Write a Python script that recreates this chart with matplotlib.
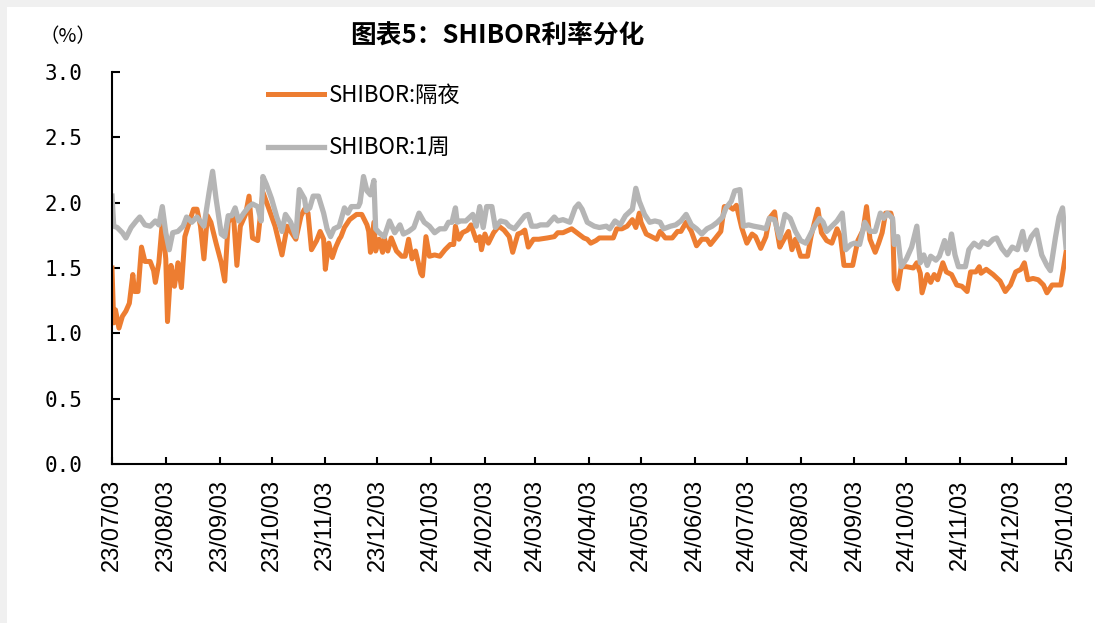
import numpy as np
import pandas as pd
import matplotlib
matplotlib.use('Agg')
import matplotlib.pyplot as plt
from matplotlib.patches import Rectangle

plt.rcParams['font.family'] = ['Noto Sans CJK SC', 'DejaVu Sans']

start = pd.Timestamp('2023-07-03')
end = pd.Timestamp('2025-01-03')

# SHIBOR overnight: days after 2023-07-03 and rate (%)
on_days = [0, 1, 2, 4, 6, 8, 10, 12, 13, 15, 17, 19, 22, 24, 25, 27, 29, 31, 32, 34,
           36, 38, 40, 42, 45, 47, 49, 51, 53, 55, 57, 60, 63, 65, 67, 70, 72, 74, 77, 79,
           81, 84, 87, 90, 94, 98, 101, 104, 106, 109, 111, 113, 115, 118,
           120, 122, 123, 125, 127, 129, 131, 132, 134, 137, 141, 144, 147, 148, 149, 151,
           152, 154, 156, 157, 159, 161, 164, 167, 169, 171, 173, 175, 178, 179, 181, 183,
           186, 189, 192, 195, 197, 198, 200, 202, 205, 207, 210, 212, 213, 215, 217, 220,
           223, 226, 229, 231, 234, 236, 238, 240, 243, 246,
           251, 255, 257, 260, 265, 269, 272, 274, 276, 279, 281, 285, 289, 291, 294, 297,
           300, 302, 304, 305, 308, 311, 314, 316, 319, 323, 326, 328, 331, 334, 337, 340,
           343, 345, 348, 351, 353, 356, 358, 360, 363, 366, 369, 371,
           374, 377, 379, 382, 383, 385, 387, 390, 392, 394, 397, 401, 403, 405, 407, 409,
           412, 415, 418, 420, 422, 425, 427, 430, 433, 435, 437, 440, 442, 444, 446, 449,
           450, 451, 453, 455, 458, 462, 464, 466, 467, 470, 472, 474, 476, 479, 481, 484,
           487, 490, 493, 495, 498, 500, 501, 504, 508, 512, 515, 518, 521, 524, 526, 528,
           531, 534, 537, 539, 542, 545, 547, 550]
on_vals = [1.50, 1.08, 1.18, 1.04, 1.13, 1.17, 1.23, 1.45, 1.32, 1.32, 1.66, 1.55, 1.55, 1.48, 1.39, 1.54, 1.85, 1.57, 1.09, 1.52,
           1.36, 1.54, 1.35, 1.74, 1.87, 1.95, 1.95, 1.82, 1.57, 1.90, 1.85, 1.69, 1.54, 1.40, 1.85, 1.91, 1.52, 1.82, 1.91, 2.05,
           1.73, 1.71, 2.08, 1.97, 1.82, 1.60, 1.82, 1.76, 1.72, 1.90, 1.95, 1.92, 1.64, 1.71,
           1.78, 1.72, 1.49, 1.69, 1.58, 1.66, 1.72, 1.74, 1.81, 1.87, 1.91, 1.91, 1.83, 1.78, 1.62, 1.85,
           1.63, 1.72, 1.62, 1.73, 1.63, 1.73, 1.63, 1.59, 1.59, 1.72, 1.57, 1.63, 1.46, 1.44, 1.74, 1.59,
           1.60, 1.59, 1.64, 1.68, 1.68, 1.82, 1.72, 1.77, 1.79, 1.83, 1.71, 1.74, 1.64, 1.76, 1.69, 1.77,
           1.82, 1.79, 1.74, 1.62, 1.76, 1.77, 1.79, 1.66, 1.72, 1.72,
           1.73, 1.74, 1.77, 1.77, 1.80, 1.76, 1.73, 1.72, 1.69, 1.71, 1.73, 1.73, 1.73, 1.80, 1.80, 1.82,
           1.87, 1.81, 1.92, 1.85, 1.76, 1.74, 1.72, 1.78, 1.73, 1.73, 1.78, 1.78, 1.85, 1.78, 1.67, 1.72,
           1.72, 1.68, 1.73, 1.78, 1.97, 1.97, 1.95, 1.98, 1.81, 1.69, 1.76, 1.74,
           1.65, 1.74, 1.88, 1.93, 1.82, 1.66, 1.71, 1.78, 1.64, 1.72, 1.59, 1.59, 1.74, 1.85, 1.95, 1.77,
           1.71, 1.69, 1.80, 1.74, 1.52, 1.52, 1.52, 1.71, 1.79, 1.97, 1.72, 1.62, 1.69, 1.77, 1.92, 1.92,
           1.87, 1.40, 1.34, 1.51, 1.51, 1.50, 1.54, 1.46, 1.31, 1.45, 1.39, 1.45, 1.41, 1.54, 1.47, 1.45,
           1.37, 1.36, 1.32, 1.47, 1.47, 1.51, 1.46, 1.49, 1.45, 1.40, 1.32, 1.37, 1.47, 1.49, 1.54, 1.41,
           1.42, 1.41, 1.37, 1.31, 1.37, 1.37, 1.37, 1.62]

# SHIBOR 1 week
w1_days = [0, 1, 3, 6, 8, 11, 14, 16, 19, 22, 25, 27, 29, 31, 33, 35, 38, 41, 43, 46,
           49, 53, 56, 58, 60, 63, 65, 67, 69, 71, 73, 76, 79, 81, 84, 86, 87, 89, 92, 95,
           98, 100, 103, 106, 108, 111, 112, 114, 116, 119,
           122, 124, 126, 128, 131, 134, 136, 138, 142, 143, 145, 147, 149, 151, 152, 154,
           157, 160, 163, 166, 168, 171, 174, 177, 180, 183, 186, 189, 192, 194, 196, 198,
           199, 201, 204, 208, 210, 212, 214, 216, 219, 221, 224, 227, 229, 232, 235, 238,
           240, 242, 245,
           247, 251, 255, 257, 260, 264, 267, 269, 271, 274, 278, 281, 285, 287, 290, 293,
           296, 300, 302, 304, 307, 310, 313, 316, 318, 322, 325, 328, 331, 334, 337, 340,
           343, 346, 349, 352, 354, 357, 359, 362, 364, 367, 370,
           374, 377, 379, 382, 385, 388, 391, 394, 397, 400, 402, 405, 408, 410, 412, 415,
           418, 421, 423, 426, 428, 431, 434, 437, 440, 443, 445, 447, 450, 451, 453, 455,
           458, 461, 464, 466, 468, 470, 472, 475, 477, 480, 482, 484, 486, 488, 492, 494,
           497, 500, 502, 505, 508, 510, 513, 516, 519, 522, 525, 527, 530, 533, 536, 539,
           541, 544, 546, 548, 550]
w1_vals = [2.05, 1.82, 1.81, 1.77, 1.73, 1.81, 1.86, 1.89, 1.83, 1.82, 1.86, 1.83, 1.97, 1.77, 1.64, 1.77, 1.78, 1.82, 1.89, 1.85,
           1.89, 1.82, 2.08, 2.24, 2.03, 1.76, 1.74, 1.90, 1.90, 1.96, 1.86, 1.92, 1.97, 1.99, 1.97, 1.86, 2.20, 2.14, 2.03, 1.89,
           1.78, 1.91, 1.85, 1.74, 2.10, 2.03, 1.94, 1.96, 2.05, 2.05,
           1.92, 1.80, 1.74, 1.80, 1.82, 1.96, 1.92, 1.97, 1.97, 2.00, 2.20, 2.09, 2.06, 2.17, 1.80, 1.77,
           1.74, 1.86, 1.77, 1.83, 1.76, 1.78, 1.81, 1.92, 1.85, 1.82, 1.77, 1.80, 1.80, 1.85, 1.85, 1.96,
           1.85, 1.86, 1.86, 1.91, 1.82, 1.97, 1.81, 1.97, 1.97, 1.81, 1.86, 1.85, 1.82, 1.80, 1.85, 1.90,
           1.91, 1.82, 1.82,
           1.83, 1.83, 1.89, 1.86, 1.87, 1.85, 1.96, 1.99, 1.95, 1.85, 1.82, 1.81, 1.82, 1.80, 1.86, 1.83,
           1.90, 1.95, 2.11, 2.01, 1.91, 1.85, 1.86, 1.85, 1.80, 1.82, 1.83, 1.86, 1.91, 1.83, 1.80, 1.76,
           1.80, 1.82, 1.85, 1.89, 1.96, 2.01, 2.09, 2.10, 1.82, 1.83, 1.82,
           1.81, 1.80, 1.88, 1.87, 1.73, 1.91, 1.88, 1.78, 1.71, 1.69, 1.74, 1.82, 1.88, 1.85, 1.78, 1.82,
           1.86, 1.92, 1.64, 1.68, 1.69, 1.68, 1.85, 1.78, 1.78, 1.92, 1.88, 1.92, 1.88, 1.68, 1.74, 1.51,
           1.57, 1.66, 1.82, 1.54, 1.60, 1.52, 1.59, 1.56, 1.59, 1.71, 1.61, 1.76, 1.60, 1.51, 1.51, 1.64,
           1.69, 1.66, 1.70, 1.68, 1.72, 1.73, 1.65, 1.60, 1.66, 1.64, 1.78, 1.64, 1.74, 1.79, 1.60, 1.52,
           1.48, 1.74, 1.89, 1.96, 1.66]

month_ticks = pd.date_range('2023-07-01', '2025-01-01', freq='MS') + pd.Timedelta(days=2)
y_ticks = np.arange(0, 3.01, 0.5)

on_dates = start + pd.to_timedelta(on_days, unit='D')
w1_dates = start + pd.to_timedelta(w1_days, unit='D')

W, H = 1095, 623
fig = plt.figure(figsize=(W / 100, H / 100), dpi=100, facecolor='#f0f0f0')
fig.patches.append(Rectangle((7 / W, 0), 1, 1 - 7 / H, transform=fig.transFigure,
                             facecolor='white', edgecolor='none', zorder=-10))
ax = fig.add_axes([112 / W, 1 - 464 / H, 954 / W, 392 / H])
ax.set_facecolor('white')

ax.plot(on_dates, on_vals, color='#ED7D31', lw=3.6, label='SHIBOR:隔夜')
ax.plot(w1_dates, w1_vals, color='#B5B5B5', lw=3.8, label='SHIBOR:1周')

ax.set_xlim(start, end)
ax.set_ylim(0, 3)
for s in ['top', 'right']:
    ax.spines[s].set_visible(False)
for s in ['left', 'bottom']:
    ax.spines[s].set_linewidth(1.5)

ax.set_yticks(y_ticks)
ax.set_yticklabels([f'{v:.1f}' for v in y_ticks], family='DejaVu Sans Mono', fontsize=15)
ax.set_xticks(month_ticks)
ax.set_xticklabels([d.strftime('%y/%m/%d') for d in month_ticks], rotation=90,
                   family='Liberation Sans', fontsize=17, va='top')
ax.tick_params(axis='y', direction='in', length=6, width=1.5, pad=21)
ax.tick_params(axis='x', direction='in', length=5, width=1.5, pad=11)

ax.legend(loc='upper left', bbox_to_anchor=(268 / W, 1 - 84 / H), bbox_transform=fig.transFigure,
          frameon=False, fontsize=16, handlelength=2.5, handletextpad=0.25,
          labelspacing=1.32, borderpad=0, borderaxespad=0)

fig.text(497 / W, 1 - 35 / H, '图表5：SHIBOR利率分化', ha='center', va='center',
         fontsize=18.5, fontweight='bold')
fig.text(68 / W, 1 - 37 / H, '（%）', ha='center', va='center', fontsize=14)

fig.savefig('out.png', dpi=100, facecolor=fig.get_facecolor())
